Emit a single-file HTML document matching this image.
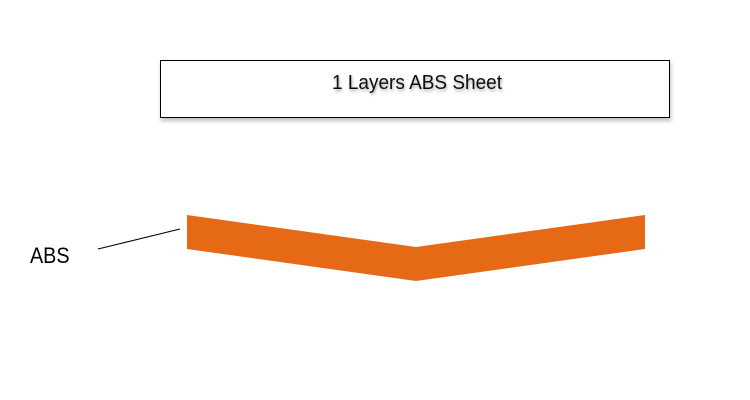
<!DOCTYPE html>
<html><head><meta charset="utf-8"><style>
html,body{margin:0;padding:0;background:#fff;}
body{width:750px;height:400px;position:relative;overflow:hidden;font-family:"Liberation Sans",sans-serif;}
</style></head><body>
<svg width="750" height="400" xmlns="http://www.w3.org/2000/svg" style="position:absolute;left:0;top:0">
<defs><filter id="s" x="-10%" y="-50%" width="120%" height="200%"><feDropShadow dx="1" dy="3" stdDeviation="2" flood-color="#000" flood-opacity="0.25"/></filter>
<filter id="t"><feDropShadow dx="1" dy="2" stdDeviation="1.5" flood-color="#000" flood-opacity="0.35"/></filter></defs>
<rect x="160.5" y="60.5" width="509" height="57" fill="#fff" stroke="#000" stroke-width="1" filter="url(#s)"/>
<text x="417" y="89" font-size="20" text-anchor="middle" fill="#111" filter="url(#t)" font-family="Liberation Sans, sans-serif" transform="translate(417,0) scale(0.95,1) translate(-417,0)">1 Layers ABS Sheet</text>
<polygon points="187,215 416,247 645,215 645,249 416,281 187,249" fill="#e66916"/>
<line x1="98" y1="249" x2="180" y2="229" stroke="#000" stroke-width="1"/>
<text x="30" y="263" font-size="22" fill="#000" font-family="Liberation Sans, sans-serif" transform="translate(30,0) scale(0.9,1) translate(-30,0)">ABS</text>
</svg>
</body></html>
